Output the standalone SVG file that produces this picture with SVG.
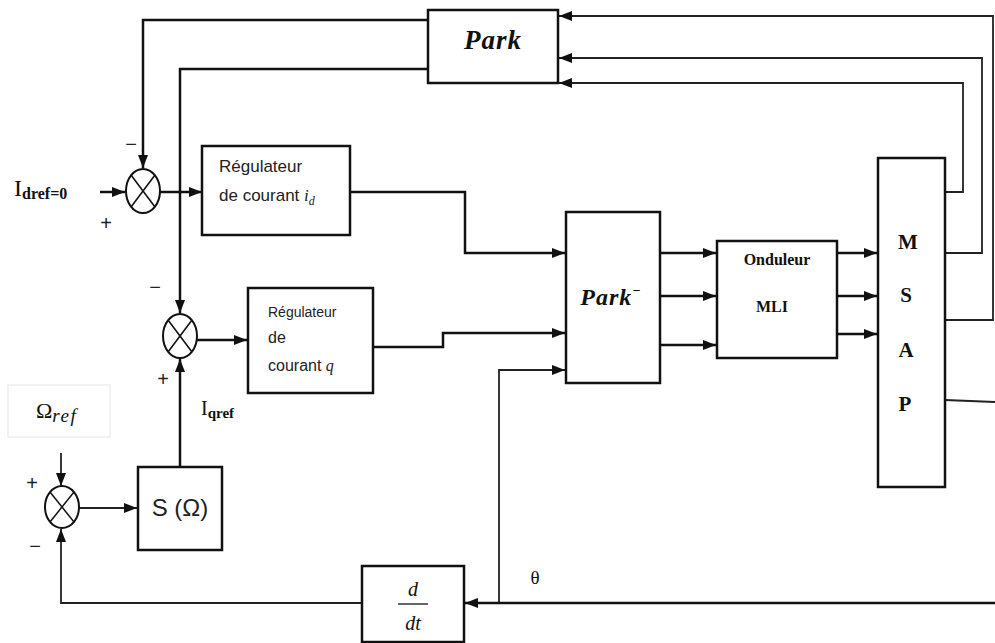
<svg xmlns="http://www.w3.org/2000/svg" width="995" height="643" viewBox="0 0 995 643">
<style>
.box{fill:#fff;stroke:#111;stroke-width:2.5}
.sum{fill:#fff;stroke:#111;stroke-width:2}
.x{stroke:#111;stroke-width:1.5}
.w{fill:none;stroke:#111;stroke-width:2.5}
.t{fill:none;stroke:#222;stroke-width:1.8}
.a{marker-end:url(#ah)}
.sans{font-family:"Liberation Sans",Arial,sans-serif;fill:#222}
.serif{font-family:"Liberation Serif","Times New Roman",serif;fill:#111}
.sign{font-family:"Liberation Sans",Arial,sans-serif;fill:#222;font-size:20px;text-anchor:middle}
</style>
<defs>
<marker id="ah" markerUnits="userSpaceOnUse" markerWidth="13" markerHeight="10" refX="13" refY="5" orient="auto">
<path d="M0,0 L13,5 L0,10 z" fill="#111"/>
</marker>
</defs>

<g id="connectors">
<polyline class="w a" points="428,20 143,20 143,168"/>
<polyline class="w a" points="428,69 180,69 180,313"/>
<line class="w a" x1="100" y1="192" x2="125" y2="192"/>
<line class="w a" x1="160" y1="192" x2="202" y2="192"/>
<polyline class="w a" points="350,192 465,192 465,253 565,253"/>
<line class="w a" x1="197" y1="340" x2="247" y2="340"/>
<polyline class="w a" points="373,347 443,347 443,333 565,333"/>
<polyline class="t a" points="499,603 499,370 565,370"/>
<line class="w a" x1="660" y1="253" x2="716" y2="253"/>
<line class="w a" x1="660" y1="296" x2="716" y2="296"/>
<line class="w a" x1="660" y1="345" x2="716" y2="345"/>
<line class="w a" x1="837" y1="253" x2="877" y2="253"/>
<line class="w a" x1="837" y1="296" x2="877" y2="296"/>
<line class="w a" x1="837" y1="334" x2="877" y2="334"/>
<polyline class="t a" points="945,192 963,192 963,83 559,83"/>
<polyline class="t a" points="945,253 982,253 982,58 559,58"/>
<polyline class="t a" points="945,320 993,320 993,16 559,16"/>
<line class="t" x1="945" y1="400" x2="995" y2="402"/>
<line class="w a" x1="995" y1="603" x2="465" y2="603"/>
<polyline class="t a" points="362,603 61,603 61,529"/>
<line class="t a" x1="61" y1="453" x2="61" y2="486"/>
<line class="t a" x1="79" y1="508" x2="137" y2="508"/>
<line class="w a" x1="180" y1="466" x2="180" y2="359"/>
</g>

<g id="park">
<rect class="box" x="428" y="10" width="130" height="73"/>
<text class="serif" x="493" y="49" font-size="27" font-weight="bold" font-style="italic" text-anchor="middle" letter-spacing="1">Park</text>
</g>

<g id="sum1">
<ellipse class="sum" cx="143" cy="191" rx="17" ry="22"/>
<line class="x" x1="131" y1="175" x2="155" y2="207"/>
<line class="x" x1="155" y1="175" x2="131" y2="207"/>
</g>

<g id="idref">
<text class="serif" x="14" y="196" font-size="24">I<tspan font-size="16" font-weight="bold" dy="3">dref=0</tspan></text>
<text class="sign" x="106" y="230">+</text>
<text class="sign" x="131" y="151">−</text>
</g>

<g id="reg-id">
<rect class="box" x="202" y="146" width="148" height="89"/>
<text class="sans" x="219" y="172" font-size="17">Régulateur</text>
<text class="sans" x="219" y="201" font-size="17">de courant <tspan font-family="Liberation Serif" font-style="italic">i</tspan><tspan font-family="Liberation Serif" font-style="italic" font-size="12" dy="4">d</tspan></text>
</g>

<g id="sum2">
<ellipse class="sum" cx="180" cy="336" rx="17" ry="22"/>
<line class="x" x1="168" y1="320" x2="192" y2="352"/>
<line class="x" x1="192" y1="320" x2="168" y2="352"/>
<text class="sign" x="155" y="294">−</text>
<text class="sign" x="163" y="386">+</text>
</g>

<g id="reg-q">
<rect class="box" x="248" y="288" width="125" height="105"/>
<text class="sans" x="268" y="317" font-size="14" fill="#4a3a4a">Régulateur</text>
<text class="sans" x="268" y="343" font-size="16">de</text>
<text class="sans" x="268" y="371" font-size="16">courant <tspan font-family="Liberation Serif" font-style="italic">q</tspan></text>
</g>

<g id="iqref">
<text class="serif" x="201" y="415" font-size="20">I<tspan font-size="15" font-weight="bold" dy="3">qref</tspan></text>
</g>

<g id="omega-ref">
<rect x="8" y="385" width="102" height="52" fill="#fff" stroke="#eeeeee" stroke-width="1.5"/>
<text class="serif" x="36" y="418" font-size="22">Ω<tspan font-style="italic" font-size="19" dy="4" letter-spacing="1.5">ref</tspan></text>
</g>

<g id="sum3">
<ellipse class="sum" cx="62" cy="507" rx="17" ry="21"/>
<line class="x" x1="50" y1="492" x2="74" y2="522"/>
<line class="x" x1="74" y1="492" x2="50" y2="522"/>
<text class="sign" x="32" y="490" font-size="24">+</text>
<text class="sign" x="35" y="553">−</text>
</g>

<g id="s-omega">
<rect class="box" x="138" y="467" width="84" height="83"/>
<text class="sans" x="180" y="516" font-size="24" text-anchor="middle">S (Ω)</text>
</g>

<g id="park-inv">
<rect class="box" x="566" y="212" width="94" height="171"/>
<text class="serif" x="611" y="305" font-size="24" font-weight="bold" font-style="italic" text-anchor="middle" letter-spacing="1">Park<tspan font-size="14" dy="-10">−</tspan></text>
</g>

<g id="onduleur">
<rect class="box" x="717" y="241" width="120" height="117"/>
<text class="serif" x="777" y="265" font-size="16" font-weight="bold" text-anchor="middle">Onduleur</text>
<text class="serif" x="772" y="312" font-size="16" font-weight="bold" text-anchor="middle">MLI</text>
</g>

<g id="msap">
<rect class="box" x="878" y="158" width="67" height="329"/>
<text class="serif" x="908" y="249" font-size="21" font-weight="bold" text-anchor="middle">M</text>
<text class="serif" x="906" y="302" font-size="21" font-weight="bold" text-anchor="middle">S</text>
<text class="serif" x="906" y="357" font-size="21" font-weight="bold" text-anchor="middle">A</text>
<text class="serif" x="905" y="411" font-size="21" font-weight="bold" text-anchor="middle">P</text>
</g>

<g id="ddt">
<rect class="box" x="362" y="566" width="102" height="76"/>
<text class="serif" x="413" y="596" font-size="20" font-style="italic" text-anchor="middle">d</text>
<line x1="398" y1="604" x2="428" y2="604" stroke="#111" stroke-width="1.3"/>
<text class="serif" x="413" y="630" font-size="20" font-style="italic" text-anchor="middle">dt</text>
</g>

<g id="theta">
<text class="serif" x="535" y="584" font-size="19" text-anchor="middle">θ</text>
</g>
</svg>
